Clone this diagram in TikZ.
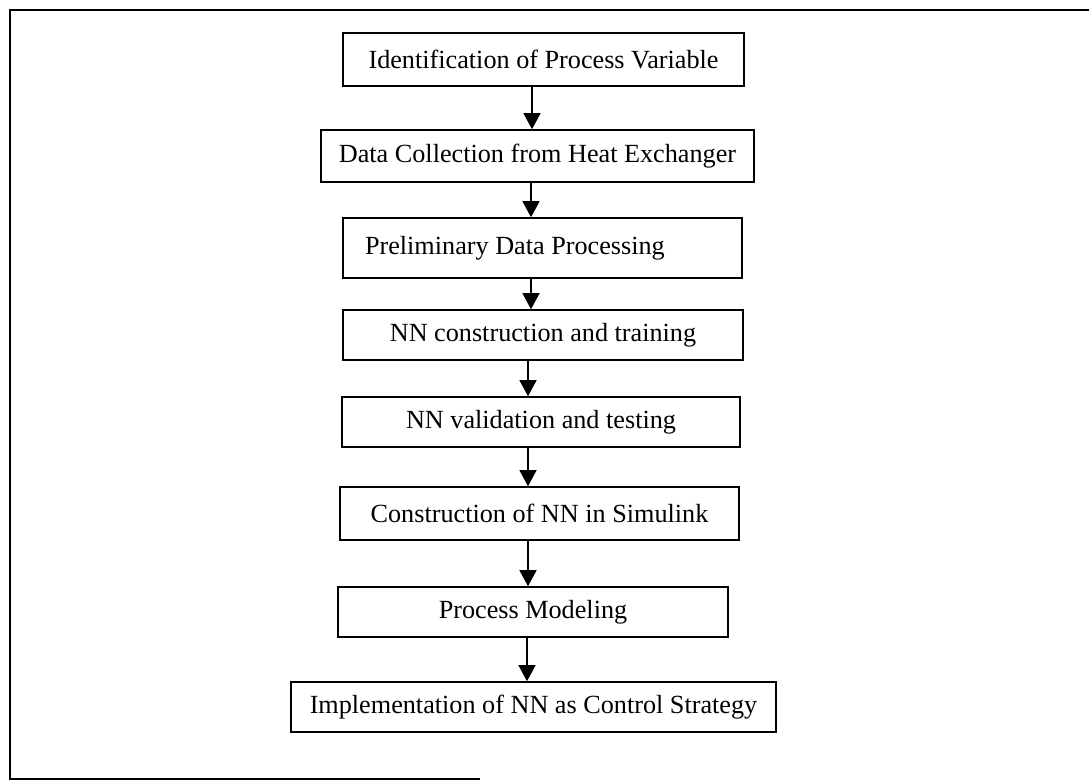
\documentclass[tikz,border=0pt]{standalone}
\usepackage{fontspec}
\setmainfont{Liberation Serif}
\usetikzlibrary{arrows.meta}

\begin{document}
\begin{tikzpicture}[x=1pt,y=-1pt,
  stepbox/.style={draw=black, line width=1.6pt, inner sep=0pt, minimum height=50pt,
    font=\fontsize{26.2}{31}\selectfont, text=black},
  flow/.style={line width=1.3pt, -{Triangle[width=17pt,length=16pt]}},
  frame/.style={line width=1.6pt}]

  \useasboundingbox (0,0) rectangle (1089,782);

  % open frame around the chart
  \coordinate (fTR) at (1089,10);
  \coordinate (fTL) at (10,10);
  \coordinate (fBL) at (10,779);
  \coordinate (fBR) at (480,779);
  \draw[frame] (fTR) -- (fTL) -- (fBL) -- (fBR);

  % process steps
  \node[stepbox, minimum width=401pt, minimum height=53pt] (b1) at (543.5,59.5)
    {Identification of Process Variable};
  \node[stepbox, minimum width=433pt, minimum height=52pt] (b2) at (537.5,156)
    {Data Collection from Heat Exchanger};
  \node[stepbox, minimum width=399pt, minimum height=60pt] (b3) at (542.5,248)
    {\makebox[355pt][l]{Preliminary Data Processing}};
  \node[stepbox, minimum width=400pt] (b4) at (543,335)
    {NN construction and training};
  \node[stepbox, minimum width=398pt] (b5) at (541,422)
    {NN validation and testing};
  \node[stepbox, minimum width=399pt, minimum height=53pt] (b6) at (539.5,513.5)
    {Construction of NN in Simulink};
  \node[stepbox, minimum width=390pt] (b7) at (533,612)
    {Process Modeling};
  \node[stepbox, minimum width=485pt] (b8) at (533.5,707)
    {Implementation of NN as Control Strategy};

  % vertical guides for the connectors
  \coordinate (a1) at (532,0);
  \coordinate (a2) at (531,0);
  \coordinate (a3) at (531,0);
  \coordinate (a4) at (528,0);
  \coordinate (a5) at (528,0);
  \coordinate (a6) at (528,0);
  \coordinate (a7) at (527,0);

  \draw[flow] (b1.south -| a1) -- (b2.north -| a1);
  \draw[flow] (b2.south -| a2) -- (b3.north -| a2);
  \draw[flow] (b3.south -| a3) -- (b4.north -| a3);
  \draw[flow] (b4.south -| a4) -- (b5.north -| a4);
  \draw[flow] (b5.south -| a5) -- (b6.north -| a5);
  \draw[flow] (b6.south -| a6) -- (b7.north -| a6);
  \draw[flow] (b7.south -| a7) -- (b8.north -| a7);
\end{tikzpicture}
\end{document}
